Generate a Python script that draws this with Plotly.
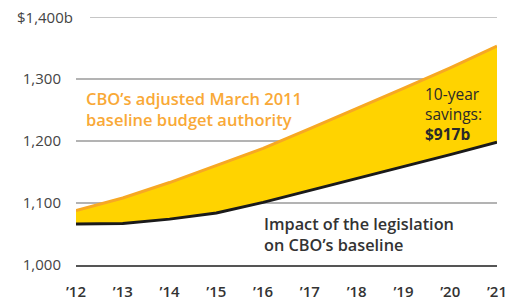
import plotly.graph_objects as go

years = [2012, 2013, 2014, 2015, 2016, 2017, 2018, 2019, 2020, 2021]
year_labels = ["’12", "’13", "’14", "’15", "’16", "’17", "’18", "’19", "’20", "’21"]
baseline = [1088, 1108, 1133, 1160, 1188, 1220, 1252, 1285, 1318, 1353]
legislation = [1066, 1067, 1074, 1084, 1101, 1120, 1140, 1159, 1178, 1198]
y_ticks = [1000, 1100, 1200, 1300]
y_tick_labels = ["1,000", "1,100", "1,200", "1,300"]
top_tick = 1400
top_tick_label = "$1,400b"

FONT = "Open Sans"
fig = go.Figure()
fig.add_trace(go.Scatter(x=years, y=legislation, mode="lines",
                         line=dict(color="#1a1a1a", width=3), cliponaxis=False,
                         hoverinfo="skip"))
fig.add_trace(go.Scatter(x=years, y=baseline, mode="lines", fill="tonexty",
                         fillcolor="#FFD300",
                         line=dict(color="#F7A823", width=3), cliponaxis=False,
                         hoverinfo="skip"))

fig.add_shape(type="line", xref="x", yref="y", x0=2012.3, x1=2021,
              y0=top_tick, y1=top_tick, line=dict(color="#b3b3b3", width=1.5),
              layer="below")

fig.add_annotation(xref="paper", yref="y", x=0, y=top_tick, xshift=-1,
                   text=top_tick_label, showarrow=False, xanchor="right",
                   yanchor="middle", font=dict(family=FONT, size=15, color="#444"))

fig.add_annotation(xref="x", yref="y", x=2012.17, y=1251, xanchor="left",
                   yanchor="middle", align="left", showarrow=False,
                   text="CBO’s adjusted March 2011<br>baseline budget authority",
                   font=dict(family=FONT, size=16.5, color="#F9A937", weight=600))
fig.add_annotation(xref="x", yref="y", x=2015.98, y=1049, xanchor="left",
                   yanchor="middle", align="left", showarrow=False,
                   text="Impact of the legislation<br>on CBO’s baseline",
                   font=dict(family=FONT, size=16.3, color="#333", weight=600))
fig.add_annotation(xref="x", yref="y", x=2019.41, y=1243, xanchor="left",
                   yanchor="middle", align="left", showarrow=False,
                   text="10-year<br>savings:<br><b>$917b</b>",
                   font=dict(family=FONT, size=15.5, color="#2a2a2a"))

fig.update_layout(
    width=506, height=301,
    margin=dict(l=76, r=9, t=17, b=36, autoexpand=False),
    paper_bgcolor="white", plot_bgcolor="white",
    showlegend=False,
    font=dict(family=FONT, color="#444"),
    xaxis=dict(range=[2012, 2021], tickvals=years, ticktext=year_labels,
               showgrid=False, zeroline=False, showline=True,
               linecolor="#555", linewidth=1.5, ticks="",
               ticklabelstandoff=12, automargin=False,
               ticklabeloverflow="allow",
               tickfont=dict(family=FONT, size=15, color="#333", weight=600)),
    yaxis=dict(range=[1000, 1400], tickvals=y_ticks, ticktext=y_tick_labels,
               showgrid=True, gridcolor="#b3b3b3", gridwidth=1.5,
               zeroline=False, ticks="", ticklabelstandoff=14, automargin=False,
               ticklabeloverflow="allow",
               tickfont=dict(family=FONT, size=15, color="#444")),
)

fig.write_html("out.html",
               config={"displayModeBar": False, "staticPlot": True},
               post_script="document.body.style.margin='0';"
                           "document.body.style.overflow='hidden';")
